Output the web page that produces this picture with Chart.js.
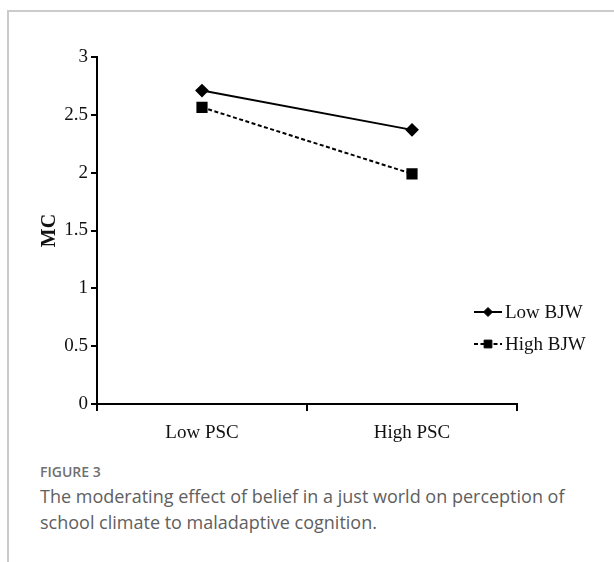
<!DOCTYPE html>
<html>
<head>
<meta charset="utf-8">
<script src="https://cdn.jsdelivr.net/npm/chart.js@4"></script>
<style>
    body { margin: 0; background: #fff; width: 614px; height: 562px; position: relative; overflow: hidden; }
    .frame { position: absolute; left: 7px; top: 10px; right: 0; bottom: 0; border-top: 2px solid #cbcbcb; border-left: 2px solid #cbcbcb; }
    .chart-box { position: absolute; left: 0; top: 0; width: 614px; height: 450px; }
    .fig-label { position: absolute; left: 40px; top: 462px; font-family: "Open Sans", sans-serif; font-size: 14px; font-weight: 600; color: #707070; }
    .caption { position: absolute; left: 40px; top: 484px; width: 550px; font-family: "Open Sans", sans-serif; font-size: 18px; line-height: 25.5px; color: #606060; }
</style>
</head>
<body>
<div class="frame"></div>
<div class="chart-box"><canvas id="moderation"></canvas></div>
<div class="fig-label">FIGURE 3</div>
<div class="caption">The moderating effect of belief in a just world on perception of school climate to maladaptive cognition.</div>

<script>
let categories = ['Low PSC', 'High PSC']
let lowBJW = [2.71, 2.37]
let highBJW = [2.565, 1.99]
let seriesNames = ['Low BJW', 'High BJW']

let canvas = document.querySelector('#moderation')
let serif = '"Liberation Serif", "Times New Roman", serif'

// legend drawn by hand: a short line with its marker, then the name
const lineLegend = {
    id: 'lineLegend',
    afterDraw(chart) {
        let ctx = chart.ctx
        let x0 = 474, x1 = 502
        let rows = [312, 344]
        chart.data.datasets.forEach((ds, i) => {
            let y = rows[i]
            ctx.save()
            ctx.strokeStyle = ds.borderColor
            ctx.lineWidth = ds.borderWidth
            ctx.setLineDash(ds.borderDash || [])
            ctx.beginPath()
            ctx.moveTo(x0, y)
            ctx.lineTo(x1, y)
            ctx.stroke()
            ctx.setLineDash([])
            ctx.fillStyle = ds.pointBackgroundColor
            ctx.strokeStyle = ds.pointBorderColor
            ctx.lineWidth = 1
            Chart.helpers.drawPoint(ctx, { pointStyle: ds.pointStyle, radius: ds.pointRadius - 1, borderWidth: 1 }, (x0 + x1) / 2, y)
            ctx.fillStyle = '#111'
            ctx.font = '19px ' + serif
            ctx.textBaseline = 'middle'
            ctx.fillText(ds.label, 505, y + 1)
            ctx.restore()
        })
    }
}

const data = {
    labels: categories,
    datasets: [
        {
            label: seriesNames[0],
            data: lowBJW,
            borderColor: '#000',
            borderWidth: 2,
            pointStyle: 'rectRot',
            pointRadius: 5.5,
            pointBackgroundColor: '#000',
            pointBorderColor: '#000'
        },
        {
            label: seriesNames[1],
            data: highBJW,
            borderColor: '#000',
            borderWidth: 2,
            borderDash: [4, 2.5],
            pointStyle: 'rect',
            pointRadius: 6.5,
            pointBackgroundColor: '#000',
            pointBorderColor: '#000'
        }
    ]
}

const config = {
    type: 'line',
    data: data,
    plugins: [lineLegend],
    options: {
        responsive: true,
        maintainAspectRatio: false,
        animation: false,
        layout: {
            padding: { left: 37, right: 97, top: 57, bottom: 6 }
        },
        plugins: {
            legend: { display: false },
            tooltip: { enabled: false }
        },
        scales: {
            x: {
                offset: true,
                afterFit: scale => { scale.height = 40 },
                border: { color: '#000', width: 2 },
                grid: {
                    offset: true,
                    drawOnChartArea: false,
                    color: '#000',
                    lineWidth: 2,
                    tickLength: 7
                },
                ticks: {
                    color: '#111',
                    padding: 11,
                    font: { family: serif, size: 19 }
                }
            },
            y: {
                min: 0,
                max: 3,
                afterFit: scale => { scale.width = 60 },
                border: { color: '#000', width: 2 },
                grid: {
                    drawOnChartArea: false,
                    color: '#000',
                    lineWidth: 2,
                    tickLength: 6
                },
                ticks: {
                    stepSize: 0.5,
                    color: '#111',
                    padding: 3,
                    font: { family: serif, size: 19 },
                    callback: value => String(value)
                },
                title: {
                    display: true,
                    text: 'MC',
                    color: '#111',
                    padding: { top: 1, bottom: 0 },
                    font: { family: serif, size: 20, weight: 'bold' }
                }
            }
        }
    }
}

new Chart(canvas, config)
</script>
</body>
</html>
